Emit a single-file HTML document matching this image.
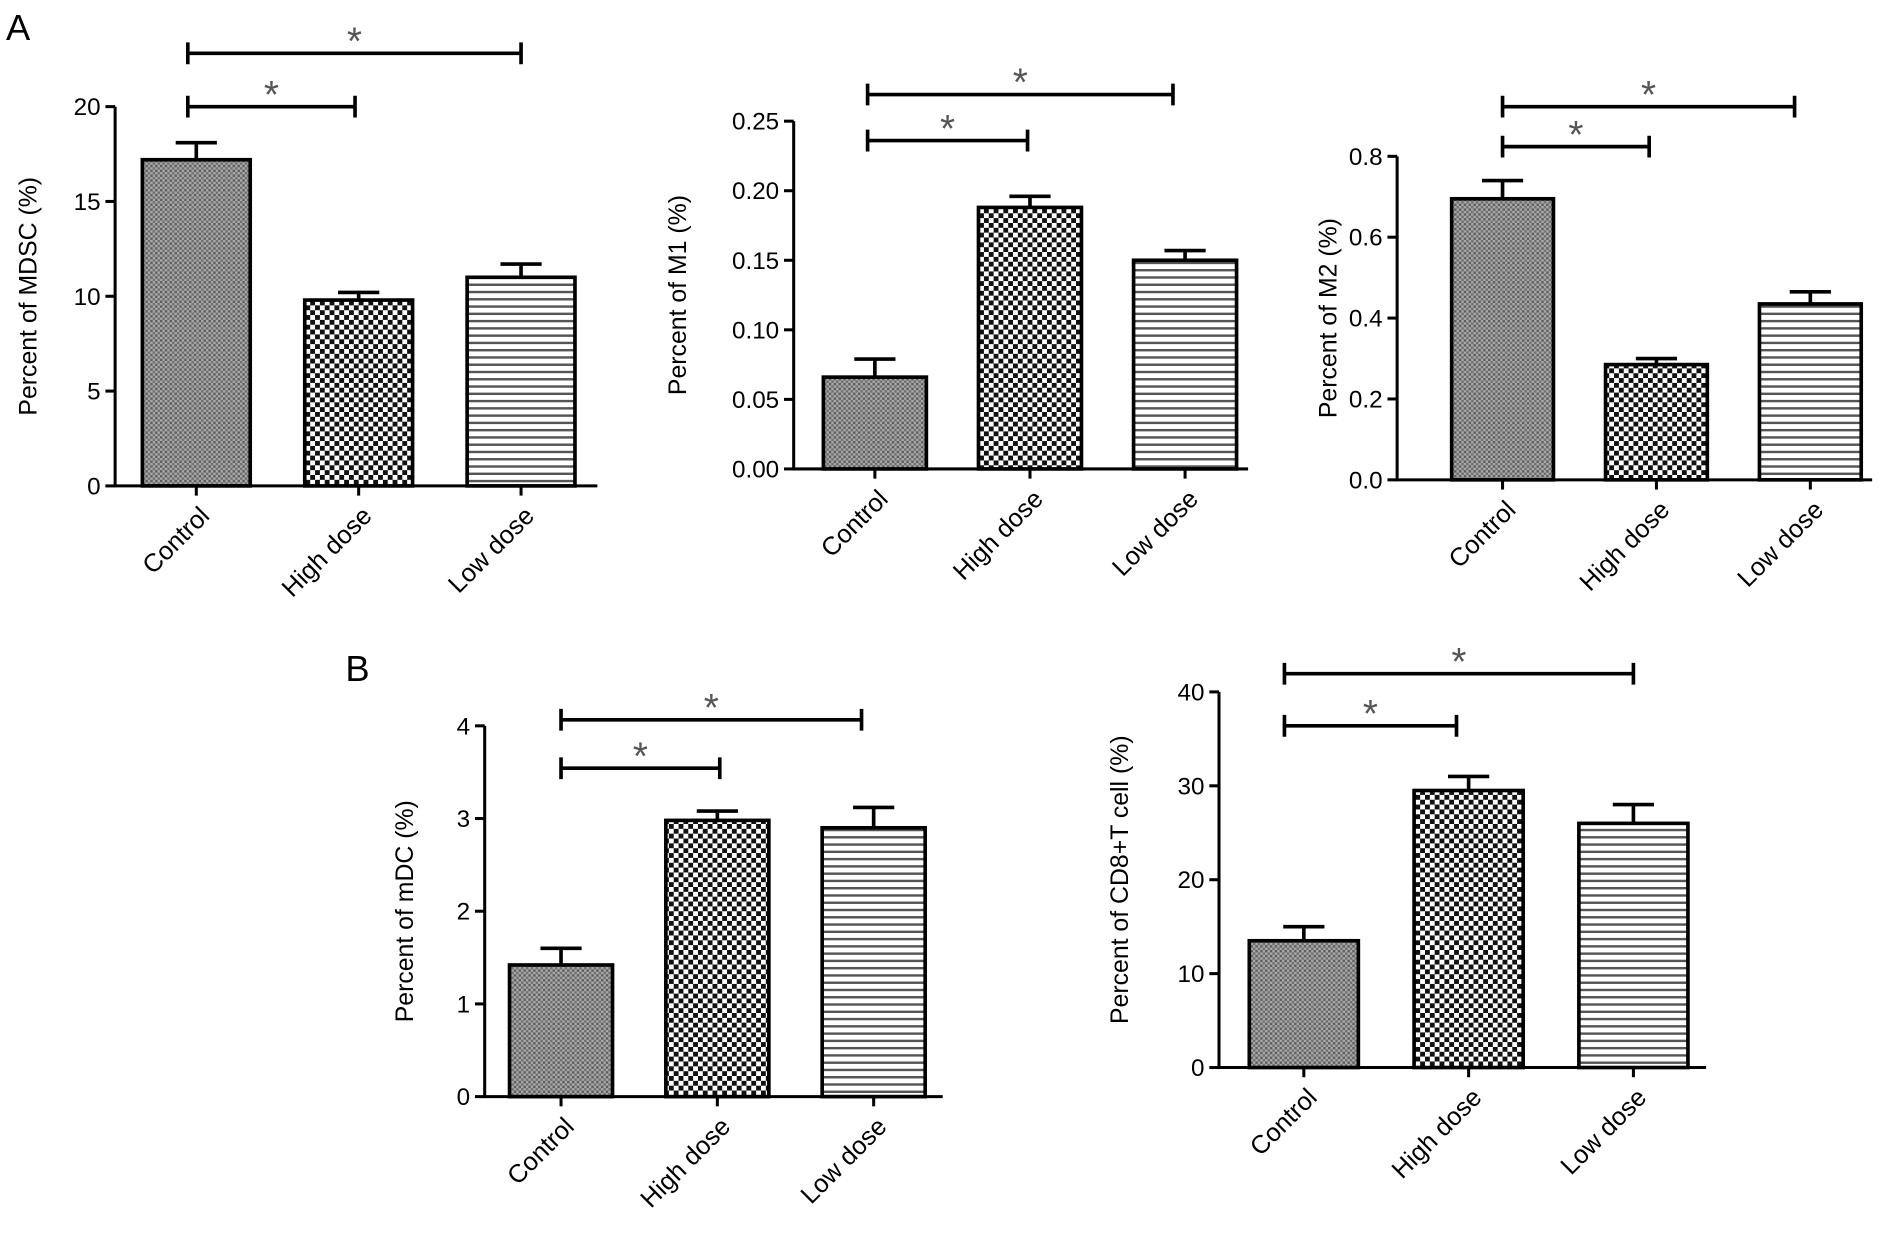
<!DOCTYPE html>
<html><head><meta charset="utf-8">
<style>
html,body{margin:0;padding:0;background:#fff;}
svg{display:block;font-family:"Liberation Sans",Arial,sans-serif;}
</style></head>
<body>
<svg id="fig" width="1900" height="1235" viewBox="0 0 1568 1019.2" preserveAspectRatio="none" xmlns="http://www.w3.org/2000/svg">
<defs>
<pattern id="pGray" width="4" height="4" patternUnits="userSpaceOnUse">
<rect width="4" height="4" fill="#a8a8a8"/><rect width="2" height="2" fill="#5e5e5e"/><rect x="2" y="2" width="2" height="2" fill="#707070"/>
</pattern>
<pattern id="pCheck" width="8" height="8" patternUnits="userSpaceOnUse">
<rect width="8" height="8" fill="#fff"/><rect width="4" height="4" fill="#111"/><rect x="4" y="4" width="4" height="4" fill="#111"/>
</pattern>
<pattern id="pStripe" width="6" height="6" patternUnits="userSpaceOnUse">
<rect width="6" height="6" fill="#fff"/><rect width="6" height="2" fill="#555"/>
</pattern>
</defs>
<text x="5" y="33" font-size="30">A</text>
<text x="285" y="562" font-size="30">B</text>
</svg>
<script>
const categories = ["Control", "High dose", "Low dose"];
const mdscValues = [17.2, 9.8, 11.0];
const mdscErrors = [0.9, 0.4, 0.7];
const mdscTicks = ["0", "5", "10", "15", "20"];
const m1Values = [0.066, 0.188, 0.150];
const m1Errors = [0.013, 0.008, 0.007];
const m1Ticks = ["0.00", "0.05", "0.10", "0.15", "0.20", "0.25"];
const m2Values = [0.695, 0.285, 0.435];
const m2Errors = [0.045, 0.015, 0.03];
const m2Ticks = ["0.0", "0.2", "0.4", "0.6", "0.8"];
const mdcValues = [1.42, 2.98, 2.9];
const mdcErrors = [0.18, 0.1, 0.22];
const mdcTicks = ["0", "1", "2", "3", "4"];
const cd8Values = [13.5, 29.5, 26];
const cd8Errors = [1.5, 1.5, 2.0];
const cd8Ticks = ["0", "10", "20", "30", "40"];

const NS = "http://www.w3.org/2000/svg";
const svg = document.getElementById("fig");
const fills = ["url(#pGray)", "url(#pCheck)", "url(#pStripe)"];
function mk(tag, attrs, parent) {
  const e = document.createElementNS(NS, tag);
  for (const k in attrs) e.setAttribute(k, attrs[k]);
  (parent || svg).appendChild(e);
  return e;
}
function panel(id, title, values, errors, ticks, L) {
  const g = mk("g", {});
  
  
  const tickVals = ticks.map(Number);
  const ymax = tickVals[tickVals.length - 1];
  const y = v => L.y0 - (v / ymax) * (L.y0 - L.yTop);
  const x = i => L.x1 + i * L.step;
  values.forEach((v, i) => {
    const r = mk("rect", {x: x(i) - L.bw / 2, y: y(v), width: L.bw, height: L.y0 - y(v), fill: fills[i], stroke: "#000", "stroke-width": 3}, g);
    
    
    const ye = y(v + errors[i]);
    const e = mk("path", {d: `M${x(i)} ${y(v)} V${ye} M${x(i) - 17} ${ye} H${x(i) + 17}`, stroke: "#000", "stroke-width": 3, fill: "none"}, g);
    
    
  });
  const ax = mk("path", {d: `M${L.ax} ${L.yTop} V${L.y0} H${L.axEnd}`, stroke: "#000", "stroke-width": 2.5, fill: "none"}, g);
  
  
  ticks.forEach((t, i) => {
    const ty = y(tickVals[i]);
    mk("line", {x1: L.ax - 8, x2: L.ax, y1: ty, y2: ty, stroke: "#000", "stroke-width": 2.5}, g);
    const tt = mk("text", {x: L.ax - 12, y: ty + 7, "font-size": 20, "text-anchor": "end"}, g);
    tt.textContent = t;
    
    
  });
  categories.forEach((c, i) => {
    mk("line", {x1: x(i), x2: x(i), y1: L.y0, y2: L.y0 + 8, stroke: "#000", "stroke-width": 2.5}, g);
    const tx = x(i) + 12, ty = L.y0 + 26;
    const t = mk("text", {x: tx, y: ty, "font-size": 21, "text-anchor": "end", transform: `rotate(-45 ${tx} ${ty})`}, g);
    t.textContent = c;
    
    
  });
  const lx = L.labelX, ly = (L.y0 + L.yTop) / 2;
  const yl = mk("text", {x: lx, y: ly, "font-size": 20.5, "text-anchor": "middle", transform: `rotate(-90 ${lx} ${ly})`}, g);
  yl.textContent = title;
  
  
  L.brackets.forEach((b, k) => {
    const x0 = L.bStart, xe = b.end;
    const p = mk("path", {d: `M${x0} ${b.y - 9} V${b.y + 9} M${x0} ${b.y} H${xe} M${xe} ${b.y - 9} V${b.y + 9}`, stroke: "#000", "stroke-width": 3, fill: "none"}, g);
    
    
    const s = mk("text", {x: (x0 + xe) / 2, y: b.y + 1, "font-size": 32, "text-anchor": "middle", fill: "#555"}, g);
    s.textContent = "*";
    
    
  });
}
panel("mdsc", "Percent of MDSC (%)", mdscValues, mdscErrors, mdscTicks,
  {ax: 95, axEnd: 493, y0: 401, yTop: 88, x1: 162, step: 134, bw: 89, labelX: 30, bStart: 155,
   brackets: [{end: 293, y: 88}, {end: 430, y: 44}]});
panel("m1", "Percent of M1 (%)", m1Values, m1Errors, m1Ticks,
  {ax: 655, axEnd: 1030, y0: 387, yTop: 100, x1: 722, step: 128, bw: 85, labelX: 566, bStart: 716,
   brackets: [{end: 848, y: 116}, {end: 968, y: 78}]});
panel("m2", "Percent of M2 (%)", m2Values, m2Errors, m2Ticks,
  {ax: 1153, axEnd: 1545, y0: 396, yTop: 129, x1: 1240, step: 127, bw: 84, labelX: 1103, bStart: 1240,
   brackets: [{end: 1361, y: 121}, {end: 1481, y: 88}]});
panel("mdc", "Percent of mDC (%)", mdcValues, mdcErrors, mdcTicks,
  {ax: 400, axEnd: 778, y0: 905, yTop: 599, x1: 463, step: 129, bw: 85, labelX: 341, bStart: 463,
   brackets: [{end: 594, y: 634}, {end: 711, y: 594}]});
panel("cd8", "Percent of CD8+T cell (%)", cd8Values, cd8Errors, cd8Ticks,
  {ax: 1006, axEnd: 1408, y0: 881, yTop: 571, x1: 1076, step: 136, bw: 90, labelX: 931, bStart: 1060,
   brackets: [{end: 1202, y: 599}, {end: 1348, y: 556}]});
</script>
</body></html>
